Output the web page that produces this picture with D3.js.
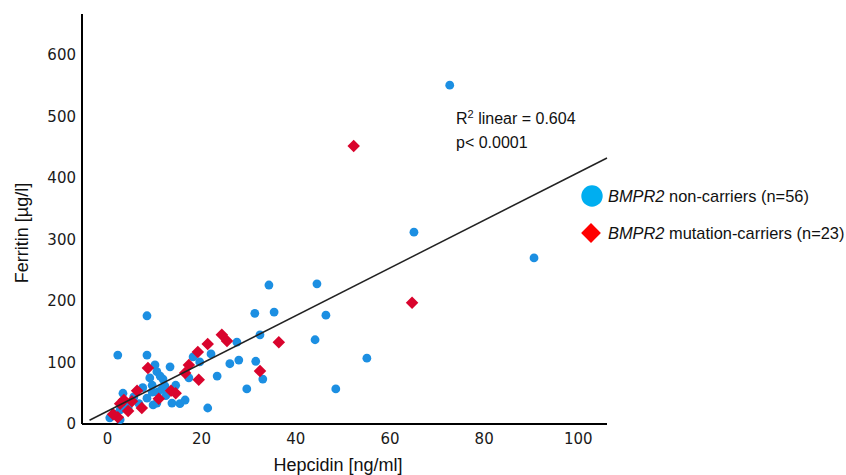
<!DOCTYPE html>
<html>
<head>
<meta charset="utf-8">
<script src="https://cdn.jsdelivr.net/npm/d3@7"></script>
<style>
  body { margin: 0; background: #fff; }
  svg { font-family: "Liberation Sans", Arial, sans-serif; }
  .tick text { font-family: "DejaVu Sans", sans-serif; }
</style>
</head>
<body>
<svg id="chart" width="846" height="475"></svg>
<script>
// hepcidin [ng/ml], ferritin [ug/l]
var nonCarrierHep = [72.8, 65.2, 90.7, 44.6, 34.4, 31.4, 35.5, 46.5, 8.5, 2.3, 8.5, 32.5, 27.6, 44.2,
  22.1, 18.3, 28.0, 31.6, 55.2, 13.4, 10.6, 23.4, 17.4, 33.1, 11.9, 9.6, 12.3, 29.7, 48.6, 3.4,
  9.6, 8.5, 13.8, 15.5, 16.6, 21.4, 3.8, 9.8, 2.8, 11.3, 10.6, 10.8, 7.6, 5.7, 1.5, 4.5,
  12.5, 14.6, 9.1, 19.7, 26.1, 6.8, 0.6, 11.7, 2.8, 10.2];
var nonCarrierFer = [551, 312, 270, 228, 226, 180, 182, 177, 176, 112, 112, 145, 133, 137,
  114, 109, 104, 102, 107, 93, 85, 78, 75, 73, 73, 63, 62, 57, 57, 50,
  52, 42, 34, 33, 39, 26, 31, 31, 7, 78, 34, 52, 59, 44, 16, 26,
  46, 63, 75, 101, 98, 33, 10, 57, 23, 96];

var carrierHep = [52.4, 64.8, 36.5, 24.4, 25.5, 21.4, 19.3, 17.4, 16.6, 19.5, 32.5, 13.6, 14.6,
  11.0, 8.7, 6.4, 3.6, 7.4, 4.5, 2.3, 5.3, 1.3, 2.8];
var carrierFer = [452, 197, 133, 145, 135, 130, 117, 96, 83, 72, 86, 54, 50,
  41, 91, 54, 39, 26, 21, 11, 37, 16, 33];

var xTicks = [0, 20, 40, 60, 80, 100];
var yTicks = [0, 100, 200, 300, 400, 500, 600];

// linear fit
var fitIntercept = 20.5, fitSlope = 3.88;
var fitRange = [-3.7, 106.2];

var svg = d3.select("#chart");

var xScale = d3.scaleLinear().domain([-5.3, 106.2]).range([82, 607]);
var yScale = d3.scaleLinear().domain([0, 666.7]).range([424, 14]);

// axes, no tick marks
var xAxis = svg.append("g")
  .attr("transform", "translate(0,424)")
  .call(d3.axisBottom(xScale).tickValues(xTicks).tickSize(0).tickPadding(9));
xAxis.select(".domain").attr("stroke", "#000").attr("stroke-width", 2).attr("d", "M82,0H607");
xAxis.selectAll(".tick text").attr("font-size", 15).attr("fill", "#1a1a1a");

var yAxis = svg.append("g")
  .attr("transform", "translate(82,0)")
  .call(d3.axisLeft(yScale).tickValues(yTicks).tickSize(0).tickPadding(6));
yAxis.select(".domain").attr("stroke", "#000").attr("stroke-width", 2).attr("d", "M0,14V424");
yAxis.selectAll(".tick text").attr("font-size", 15).attr("fill", "#1a1a1a");

// points
svg.append("g").selectAll("circle")
  .data(d3.zip(nonCarrierHep, nonCarrierFer))
  .enter()
  .append("circle")
  .attr("cx", function(d) { return xScale(d[0]); })
  .attr("cy", function(d) { return yScale(d[1]); })
  .attr("r", 4.4)
  .attr("fill", "#1c8fe2");

svg.append("g").selectAll("path")
  .data(d3.zip(carrierHep, carrierFer))
  .enter()
  .append("path")
  .attr("d", d3.symbol().type(d3.symbolDiamond2).size(100))
  .attr("transform", function(d) {
    return "translate(" + xScale(d[0]) + "," + yScale(d[1]) + ")";
  })
  .attr("fill", "#d9042d");

// fit line
svg.append("line")
  .attr("x1", xScale(fitRange[0]))
  .attr("y1", yScale(fitIntercept + fitSlope * fitRange[0]))
  .attr("x2", xScale(fitRange[1]))
  .attr("y2", yScale(fitIntercept + fitSlope * fitRange[1]))
  .attr("stroke", "#222")
  .attr("stroke-width", 1.5);

// axis titles
svg.append("text")
  .attr("x", 338).attr("y", 471)
  .attr("text-anchor", "middle")
  .attr("font-size", 18)
  .attr("fill", "#111")
  .text("Hepcidin [ng/ml]");

svg.append("text")
  .attr("transform", "translate(28,233) rotate(-90)")
  .attr("text-anchor", "middle")
  .attr("font-size", 18)
  .attr("fill", "#111")
  .text("Ferritin [µg/l]");

// stats
var r2 = svg.append("text").attr("x", 456).attr("y", 124).attr("font-size", 16).attr("fill", "#111");
r2.append("tspan").text("R");
r2.append("tspan").attr("dy", -6).attr("font-size", 11).text("2");
r2.append("tspan").attr("dy", 6).text(" linear = 0.604");
svg.append("text").attr("x", 456).attr("y", 148).attr("font-size", 16).attr("fill", "#111")
  .text("p< 0.0001");

// legend
var legend = [
  { label: " non-carriers (n=56)", shape: "circle", color: "#00aef0", y: 196 },
  { label: " mutation-carriers (n=23)", shape: "diamond", color: "#ff0000", y: 233 }
];
legend.forEach(function(l) {
  if (l.shape === "circle") {
    svg.append("circle").attr("cx", 592).attr("cy", l.y).attr("r", 10.7).attr("fill", l.color);
  } else {
    svg.append("path")
      .attr("d", d3.symbol().type(d3.symbolDiamond2).size(250))
      .attr("transform", "translate(591," + l.y + ")")
      .attr("fill", l.color);
  }
  var t = svg.append("text").attr("x", 608).attr("y", l.y + 6).attr("font-size", 16.4).attr("fill", "#111");
  t.append("tspan").attr("font-style", "italic").text("BMPR2");
  t.append("tspan").text(l.label);
});
</script>
</body>
</html>
